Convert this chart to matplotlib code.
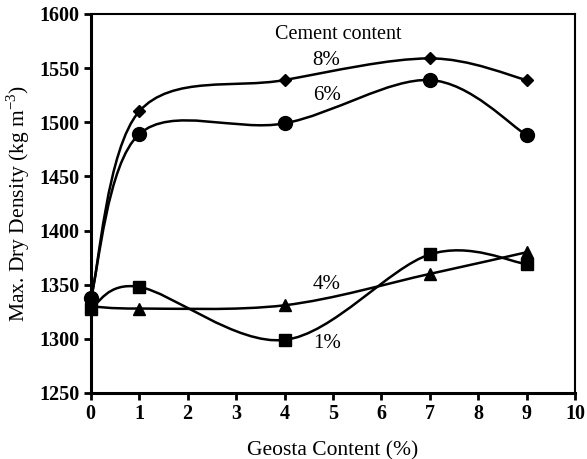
import numpy as np
import matplotlib
matplotlib.use("Agg")
import matplotlib.pyplot as plt
from matplotlib.path import Path
from matplotlib.patches import PathPatch

plt.rcParams["font.family"] = ["Liberation Serif", "DejaVu Serif"]
plt.rcParams["mathtext.fontset"] = "custom"
plt.rcParams["mathtext.rm"] = "Liberation Serif"

geosta = [0, 1, 4, 7, 9]
cem8 = [1335, 1510, 1539, 1559, 1539]
cem6 = [1338, 1489, 1499, 1539, 1488]
cem4 = [1330, 1328, 1331, 1360, 1380]
cem1 = [1328, 1348, 1299, 1378, 1369]

series = [
    ("8%", cem8, "D", 6),
    ("6%", cem6, "o", 10),
    ("4%", cem4, "^", 9),
    ("1%", cem1, "s", 9),
]
label_pos = {"8%": (4.87, 1557), "6%": (4.87, 1525), "4%": (4.87, 1350), "1%": (4.87, 1296)}


def smooth_path(xs, ys):
    # catmull-rom style bezier through the points (like excel "smoothed line")
    p = np.column_stack([xs, ys]).astype(float)
    n = len(p)
    verts = [p[0]]
    codes = [Path.MOVETO]
    for i in range(n - 1):
        p0 = p[i - 1] if i > 0 else p[i]
        p1 = p[i]
        p2 = p[i + 1]
        p3 = p[i + 2] if i + 2 < n else p[i + 1]
        c1 = p1 + (p2 - p0) / 6.0
        c2 = p2 - (p3 - p1) / 6.0
        verts += [c1, c2, p2]
        codes += [Path.CURVE4] * 3
    return Path(verts, codes)


fig = plt.figure(figsize=(5.87, 4.59), dpi=100)
ax = fig.add_axes([0.1545, 0.1438, 0.8255, 0.8257])

for name, vals, mk, ms in series:
    ax.add_patch(PathPatch(smooth_path(geosta, vals), fill=False, lw=1.8,
                           edgecolor="black", clip_on=False, zorder=2))
    ax.plot(geosta, vals, linestyle="none", marker=mk, ms=ms, color="black",
            clip_on=False, zorder=3)
    tx, ty = label_pos[name]
    ax.text(tx, ty, name, ha="center", va="center", fontsize=15)

ax.text(5.1, 1581, "Cement content", ha="center", va="center", fontsize=14.5)

ax.set_xlim(0, 10)
ax.set_ylim(1250, 1600)
ax.set_xticks(range(0, 11))
ax.set_yticks(range(1250, 1601, 50))
ax.tick_params(direction="out", length=5, width=2, labelsize=14.5, pad=3)
for lab in ax.get_xticklabels() + ax.get_yticklabels():
    lab.set_fontweight("bold")
ax.spines["left"].set_linewidth(2.2)
ax.spines["bottom"].set_linewidth(2.2)
ax.spines["top"].set_linewidth(1.5)
ax.spines["right"].set_linewidth(1.5)

ax.set_xlabel("Geosta Content (%)", fontsize=15.5, labelpad=12)
ax.set_ylabel("Max. Dry Density (kg m$^{-3}$)", fontsize=15.5, labelpad=5)

fig.savefig("out.png", dpi=100)
